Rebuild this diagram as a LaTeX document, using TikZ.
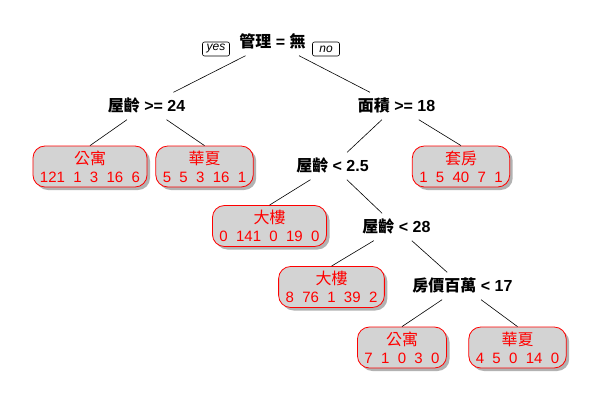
\documentclass[tikz,border=0pt]{standalone}
\usepackage{fontspec}
\setmainfont{Liberation Sans}
\newfontfamily\cjk{Noto Sans CJK TC}
\usetikzlibrary{shadows}
\definecolor{leafgray}{HTML}{D3D3D3}
% double space between the class counts
\newcommand\twosp{\hspace{0.556em}}
% class name of a leaf
\newcommand\cls[1]{{\fontsize{16}{18}\selectfont\cjk #1}}

\tikzset{
  split/.style={font=\fontsize{16}{18}\selectfont\bfseries, inner xsep=0pt,
    inner ysep=0pt, text height=12pt, text depth=2pt, minimum height=27pt},
  leaf/.style={draw=red, line width=0.8pt, fill=leafgray, rounded corners=12pt,
    text=red, font=\fontsize{15}{18}\selectfont, align=center,
    inner xsep=7pt, minimum height=41pt,
    drop shadow={shadow xshift=3pt, shadow yshift=-3pt, fill=black, opacity=0.3}},
  answer/.style={draw, line width=0.6pt, rounded corners=2pt,
    font=\fontsize{12}{12}\selectfont\itshape, minimum width=27pt,
    minimum height=14pt, inner sep=0pt},
  branch/.style={line width=0.6pt}
}

\begin{document}
\begin{tikzpicture}[x=1pt,y=-1pt]
  \fill[white] (0,0) rectangle (600,400);
  \useasboundingbox (0,0) rectangle (600,400);

  % split conditions
  \node[split] (root) at (272.5,42) {{\cjk 管理} = {\cjk 無}};
  \node[answer] (yes) at (216,49) {yes};
  \node[answer] (no) at (326,49) {no};
  \node[split] (s1) at (146.5,106) {{\cjk 屋齡} >= 24};
  \node[split] (s2) at (396.5,106) {{\cjk 面積} >= 18};
  \node[split] (s3) at (332.5,166) {{\cjk 屋齡} < 2.5};
  \node[split] (s4) at (396.5,227) {{\cjk 屋齡} < 28};
  \node[split] (s5) at (462.5,286) {{\cjk 房價百萬} < 17};

  % leaves: predicted class and counts
  \node[leaf] (l1) at (90,166.5) {\cls{公寓}\\121\twosp 1\twosp 3\twosp 16\twosp 6};
  \node[leaf] (l2) at (204.5,166.5) {\cls{華夏}\\5\twosp 5\twosp 3\twosp 16\twosp 1};
  \node[leaf] (l3) at (461,166.5) {\cls{套房}\\1\twosp 5\twosp 40\twosp 7\twosp 1};
  \node[leaf] (l4) at (269.5,226) {\cls{大樓}\\0\twosp 141\twosp 0\twosp 19\twosp 0};
  \node[leaf] (l5) at (331.5,287) {\cls{大樓}\\8\twosp 76\twosp 1\twosp 39\twosp 2};
  \node[leaf] (l6) at (402,347.5) {\cls{公寓}\\7\twosp 1\twosp 0\twosp 3\twosp 0};
  \node[leaf] (l7) at (517.5,347.5) {\cls{華夏}\\4\twosp 5\twosp 0\twosp 14\twosp 0};

  % branches
  \draw[branch] (root) -- (s1);
  \draw[branch] (root) -- (s2);
  \draw[branch] (s1) -- (l1.north);
  \draw[branch] (s1) -- (l2.north);
  \draw[branch] (s2) -- (s3);
  \draw[branch] (s2) -- (l3.north);
  \draw[branch] (s3) -- (l4.north);
  \draw[branch] (s3) -- (s4);
  \draw[branch] (s4) -- (l5.north);
  \draw[branch] (s4) -- (s5);
  \draw[branch] (s5) -- (l6.north);
  \draw[branch] (s5) -- (l7.north);
\end{tikzpicture}
\end{document}
